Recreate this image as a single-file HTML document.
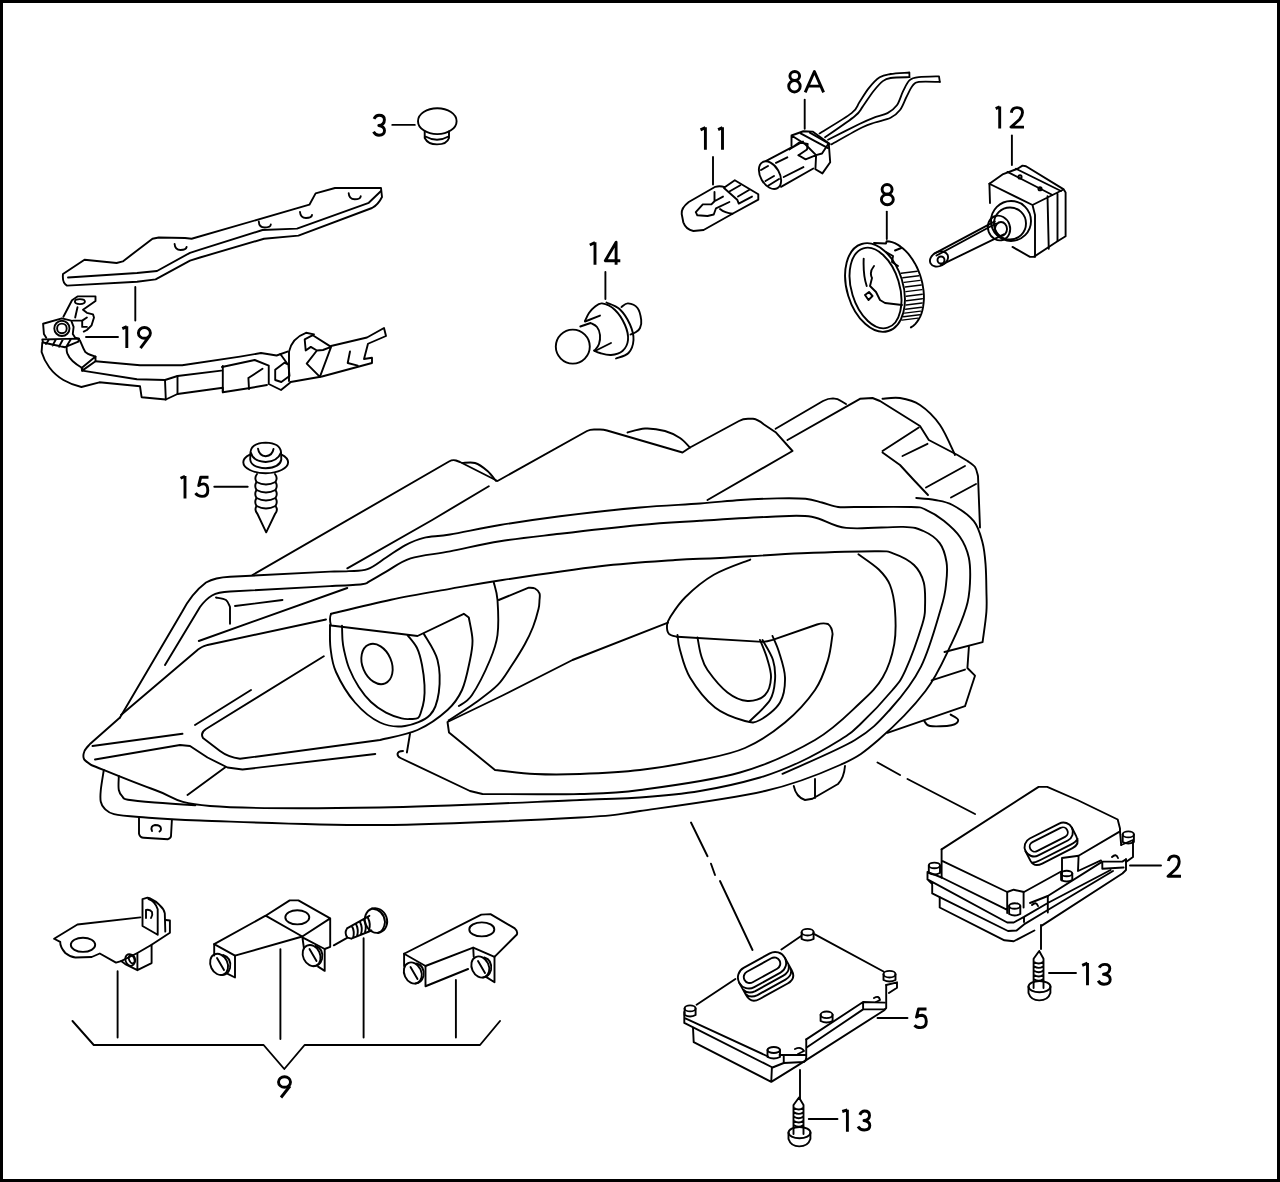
<!DOCTYPE html>
<html><head><meta charset="utf-8">
<style>
html,body{margin:0;padding:0;background:#fff;}
body{width:1280px;height:1182px;overflow:hidden;position:relative;}
svg{position:absolute;left:0;top:0;}
.s{fill:none;stroke:#000;stroke-width:1.9;stroke-linejoin:round;stroke-linecap:round;}
.t{font-family:"Liberation Sans",sans-serif;font-size:31px;fill:#000;}
</style></head><body>
<svg width="1280" height="1182" viewBox="0 0 1280 1182">
<rect x="1.5" y="1.5" width="1277" height="1179" fill="none" stroke="#000" stroke-width="3"/>
<g id="labels" style="fill:none;stroke:#000;stroke-width:2.9;stroke-linejoin:round;stroke-linecap:butt">
<path d="M374,118.8 Q375.8,115.3 379,115.3 Q384.4,115.3 384.4,119.7 Q384.4,124.8 378.8,125.5 Q384.5,126.5 384.5,130.6 Q384.5,135.3 379,135.3 Q375.5,135.3 373.5,131.8"/>
<path d="M122.3,328.6 L126.8,326.6 M126.8,326.2 L126.8,348.1"/><ellipse cx="144.4" cy="332.9" rx="6" ry="5.4"/><path d="M149.6,335.8 L140.5,348.1"/>
<ellipse cx="794.75" cy="76" rx="4.85" ry="4.45"/><ellipse cx="794.45" cy="86.25" rx="5.75" ry="5.75"/><path d="M805.2,92.3 L814.4,71.5 L823.6,92.3 M809,86.1 L820,86.1"/>
<path d="M700.5,129.9 L705.4,127.6 M705.4,127.3 L705.4,149.8 M718.1,129.6 L722.5,127.6 M722.5,127.3 L722.5,149.8"/>
<path d="M995.7,108.6 L999.7,106.8 M999.7,106.6 L999.7,128.6 M1011.3,112.8 Q1012,107.6 1017,107.6 Q1022.5,107.6 1022.5,112.6 Q1022.5,116 1019.5,119.5 L1011,127.1 L1024,127.1"/>
<ellipse cx="887.1" cy="189.35" rx="5" ry="4.85"/><ellipse cx="887.35" cy="199.45" rx="5.95" ry="5.25"/>
<path d="M589.8,245 L595,242.5 M595,242.2 L595,264.7 M616.1,264.7 L616.1,242.3 L605.3,260.7 L620.3,260.7"/>
<path d="M180.5,478.3 L185,476.2 M185,476 L185,498.5 M208.5,477.3 L200.7,477.3 L198.7,485.5 Q201.5,483.8 204,483.9 Q207.8,484.3 207.8,490.5 Q207.8,496.4 202,496.4 Q197.8,496.4 195.5,493.2"/>
<path d="M1168.3,861 Q1169.5,856 1174,856 Q1179.2,856 1179.2,861.5 Q1179.2,865.5 1176,869 L1168,876.3 L1181,876.3"/>
<path d="M1082.2,965.4 L1087.5,963.2 M1087.5,963 L1087.5,985.3 M1099.2,967.6 Q1101,964.4 1104.7,964.4 Q1109.8,964.4 1109.8,968.6 Q1109.8,973.5 1103.5,974.3 Q1110.2,975 1110.2,979.5 Q1110.2,984.2 1104,984.2 Q1100,984.2 1098.2,980.8"/>
<path d="M926.5,1009 L918.5,1009 L916.5,1017 Q919,1015.3 922,1015.3 Q926.3,1015.7 926.3,1021.6 Q926.3,1027.6 920.5,1027.6 Q916.5,1027.6 914.5,1025.2"/>
<path d="M842.25,1111.5 L847.4,1109.9 M847.4,1109.8 L847.4,1131.8 M859.8,1114.8 Q861.5,1111 864.5,1111 Q869.5,1111 869.5,1115.5 Q869.5,1120 864,1120.5 Q869.8,1121.5 869.8,1125.6 Q869.8,1130 864.3,1130 Q860,1130 858,1126.5"/>
<ellipse cx="284.5" cy="1082" rx="6" ry="5.3"/><path d="M290,1086 L281,1097.5"/>
</g>

<g class="s" id="p19">
<path d="M63,274 L84.5,259.8 L116.6,263 L122.8,261.4 L152.5,238.75 L158.75,237.5 L185,238 L191.6,238.75 L309.4,204.7 L315.6,193.4 L335,188 L381,188 L382,197 Q378,205 372,208 L298.4,235.6 L264,238.75 L200,257.5 L190,260.6 L155.6,279.4 L137,281.7 L67,285.6 Q62,283 63,274 Z"/>
<path d="M68,277.5 L137,273 L157,271 L190,252.8 L200,249.7 L262.5,230 L297,228.6 L368.75,202.8 L381,191"/>
<path d="M174.6,244 Q175,250 180.6,250 Q186,250 186.6,247 M258.8,221.5 Q259,227.5 264.8,227.5 Q270.5,227.5 270.8,224.5 M300,212 Q300.5,218 306,218 Q311.5,218 312,215 M348.7,193.3 Q349,199.3 354.7,199.3 Q360.3,199.3 360.7,196.3"/>
<path d="M42.3,342.5 L41.6,351.9 Q44,360 49.4,367.5 Q55,375 63.4,380 Q72,385 81.4,387 L99.4,382.3 L140,386.25 L141.6,397.2 L165.8,399.5 L177.5,394 L222.8,387.8 L222.8,392.3 L250,388 L267,385"/>
<path d="M95.5,361.25 L140,365.2 L182.2,365.2 L240,356.6 L261,353 L276.6,355.5 L287.5,351.6"/>
<path d="M82.2,370.6 L136.9,379.2 L165,380 L177.5,376 L221.25,370.6"/>
<path d="M165,380 L165.8,399.5 M177.5,376 L177.5,394 M222.8,366 L222.8,392.3"/>
<path d="M82.2,367.5 L95.5,356.6 L95.5,361.25 L82.2,370.6 Z"/>
<path d="M66.6,347.2 Q66.5,351 67.3,353.4 Q69,358 72.8,361.25 Q77,365 81.4,367.5 L82.2,370.6"/>
<path d="M79.8,340.2 Q81,343 82.2,345.6 Q83.5,349 85.3,351.9 Q88,354 90.8,355 L95.5,356.6"/>
<path d="M222,367 L254.7,360 L268.75,365.6 L268.75,384 L281,390 L290,382.8 M248.4,378 L262.5,368.75 M248.4,378 L249,389"/>
<path d="M275.2,369.8 L284.4,362.7 L288.4,364.7 L289.5,375.9 L281.3,382 L275.2,380 Z M280.3,354 L287.4,363.7"/>
<path d="M289,381 L289,351.6 Q292,338 306,332.8 L314,334.4"/>
<path d="M304.7,339.3 L312.8,335.2 L331.1,346.9 L319.9,376.9 L306.7,363.7 L316.9,350.5 L310.8,346.9 L305.7,350.5 Z M316.9,350.5 L323,350 L331.1,346.9"/>
<path d="M331,346 L367,337.5 L384,328 L386,336 L368,343.75 L364,359 L372,357.8 L372,363 L322,376.5 L290.6,382"/>
<path d="M350,351.5 L347.7,363 L357.8,365.6"/>
<path d="M63.4,316.7 L72,300.3 L77.5,296.4 L95.5,296.4 L95.5,301 L83,309.7 L86.9,312.8 L93,314.4 L94,317.5 L91.6,325.3 L86.9,330 L83.75,331.6"/>
<path d="M77.5,307.3 L75.2,317.5 M72.8,320.6 L82.2,320.6 L86.9,317.5 M82.2,320.6 L82.2,326.9 L86.9,326.9"/>
<ellipse cx="79.9" cy="301.6" rx="5" ry="2.5"/>
<path d="M43.1,323.75 L61.9,318.3 L71.25,320.6 L73.6,326.9 L72.8,333.9 L75.2,337.8 L79,338.6 M43.1,323.75 L43.9,333.9 L46.25,337.8"/>
<circle cx="61.9" cy="328.4" r="7.6"/><circle cx="61.9" cy="328.4" r="4.8"/>
<path d="M42.3,339.4 L79,338.6 L78.3,341.7 L65,347.2 L43.1,342.5 Z M49,339.5 L46,344 M56,339.3 L52.5,345.5 M63,339.2 L59,346.7 M71,339 L67,345.5"/>
</g>
<g class="s" id="p3">
<ellipse cx="437.3" cy="121.2" rx="19.3" ry="12.9"/>
<path d="M424.7,131.5 L424.7,138 Q428,144.4 437,144.4 Q447,144.4 449,138 L449,131.5 M425.5,136.5 Q437,143 448.5,136.5"/>
</g>
<g class="s" id="p11">
<path d="M715.3,186.8 L688.75,202 Q681,208 681.7,214 L683.3,222.3 Q686,229.5 693.4,231 L703.6,230 L732.5,213.75 L758.3,199.7 L758.3,194.2 L734.8,180.2 L724.7,187.2 Q720,185.5 715.3,186.8 Z"/>
<path d="M724,188 L737.2,199.7 L738.75,203.6 L752,196.6 M729.4,191.5 L740.3,185.2 M738,196.5 L749,190"/>
<path d="M714.5,191.9 L714.5,201.25 L723,196.6 M695.8,212.2 L702.8,204.4 L711.4,204.4 L714.5,201.25 M729.4,202 L716,208.3 L713.75,214.5 L707.5,216 L697.3,215.3 L695.8,212.2 M720,209 Q725,213 732.5,213.75"/>
</g>
<g class="s" id="p8a">
<ellipse cx="770" cy="175.2" rx="9.5" ry="15" transform="rotate(-30 770 175.2)"/>
<path d="M766.2,160.8 L792.2,147.1 M781,186.8 L813.3,168.5 M776,162.9 L787.3,157.3 M783.75,177 L803.4,167.1 M761,170 L768,166 M765.5,181 L774,176 M768.5,185.5 L779,179"/>
<path d="M791.5,146 L791.5,135.5 L803.4,131.25 L812.6,131.6 L828.75,143.2 L830.2,162.2 L822.4,173.4 L815.4,169.2 L816.1,155.2 L822,153.5 L828.75,143.2 M791.5,135.5 L805,144 L816.1,155.2 L805.6,159.4 L798.5,155.2"/>
<path d="M800.6,133.4 L828,148.1 M809.8,132.7 L829.5,143.9 M789.4,149.5 L799.2,142.5 L807.7,143.9 L807,149.5 L798.5,155.2 M792.5,147.5 L803,141.5"/>
<g style="stroke-width:1.8">
<path d="M819.5,133.4 C824.9,130.0 845.0,118.3 851.6,113.1 C858.2,107.9 856.5,106.4 859.4,102.2 C862.3,98.0 865.4,92.3 868.8,88.1 C872.1,83.9 876.1,79.5 879.7,77.2 C883.3,74.9 885.7,74.8 890.6,74.0 C895.5,73.2 906.3,72.8 909.4,72.5 L909.4,77.2"/><path d="M909.4,77.2 C906.3,77.3 895.0,77.3 890.6,78.0 C886.2,78.7 885.7,78.9 882.8,81.1 C879.9,83.3 876.8,87.0 873.4,91.2 C870.0,95.5 865.6,102.7 862.5,106.9 C859.4,111.1 861.0,111.2 854.7,116.2 C848.5,121.3 830.0,133.8 825.0,137.3"/><path d="M828.0,139.7 C833.2,137.1 851.8,127.7 859.4,124.0 C867.0,120.3 868.7,119.6 873.4,117.8 C878.1,116.0 883.6,115.2 887.5,113.1 C891.4,111.0 894.3,108.9 896.9,105.3 C899.5,101.7 901.0,95.4 903.1,91.2 C905.2,87.1 906.8,82.6 909.4,80.3 C912.0,78.0 913.8,77.8 918.8,77.2 C923.7,76.6 935.6,76.5 939.0,76.4 L939.8,81.9"/><path d="M939.8,81.9 C936.3,81.9 923.3,81.2 918.8,81.9 C914.2,82.6 914.6,83.2 912.5,85.8 C910.4,88.4 908.3,93.5 906.2,97.5 C904.2,101.5 902.6,106.6 900.0,110.0 C897.4,113.4 894.8,115.7 890.6,117.8 C886.4,119.9 879.7,120.9 875.0,122.5 C870.3,124.1 869.8,123.5 862.5,127.2 C855.2,130.8 836.5,141.5 831.2,144.4"/>
</g></g>
<g class="s" id="p8" style="stroke-width:1.9">
<ellipse cx="875" cy="287.5" rx="28" ry="45.5" transform="rotate(-17 875 287.5)"/>
<ellipse cx="875.5" cy="288" rx="24" ry="41.5" transform="rotate(-17 875.5 288)"/>
<path d="M874,243 L886,243.5 L886.6,241.2 L889.3,241.5 L892.0,242.2 L894.8,243.2 L897.6,244.6 L900.3,246.4 L903.0,248.5 L905.6,250.9 L908.2,253.7 L910.5,256.7 L912.8,259.9 L914.9,263.4 L916.8,267.0 L918.5,270.9 L920.0,274.8 L921.2,278.8 L922.3,282.9 L923.0,287.1 L923.6,291.2 L923.9,295.2 L923.9,299.2 L923.6,303.0 L923.1,306.7 L922.4,310.3 L921.4,313.6 L920.2,316.6 L918.7,319.4 L917.0,321.9 L915.2,324.1 L913.1,326.0 L910.9,327.4"/>
<path d="M901.2,273.3 L917.2,271.3 M902.8,277.8 L918.8,275.8 M904.1,282.4 L920.1,280.4 M905.2,287.0 L921.2,285.0 M905.9,291.6 L921.9,289.6 M906.3,296.2 L922.3,294.2 M906.4,300.7 L922.4,298.7 M906.1,305.0 L922.1,303.0 M905.6,309.2 L921.6,307.2 M904.7,313.1 L920.7,311.1 M903.5,316.7 L919.5,314.7 M902.0,320.1 L918.0,318.1" style="stroke-width:1.4"/>
<path d="M895,250.5 L901.25,248 M886,252 L893,256 L892,262 L898,266 M863.7,258.6 Q863,275 866.7,286 M874,266 Q869,272 872,278 L870,286 L876,292 L880,300 L885,303 L902,305 M865,295 L869,292 L872.5,296 L868.5,300 Z"/>
</g>
<g class="s" id="p12">
<path d="M989.4,183.75 L1002.5,174.4 L1017.5,168.75 L1022.5,165.6 L1026,166.25 L1063.75,189.4 L1065.6,192.5 L1065.6,236.25 L1057.5,241.25 L1033.75,256.9 L1030,256.9 L1012.5,246.9"/>
<path d="M989.4,183.75 L990,203 M989.4,183.75 L1032.5,205 L1062.5,190 M1032.5,205 L1035,215 L1035,256.9 M1047.5,196.25 L1048.75,248.75 M1057.5,193.75 L1057.5,241 M1007.5,171.9 L1052.5,195 M1016,168.75 L1061,191"/>
<circle cx="1020" cy="176.9" r="1.6"/><circle cx="1040" cy="188.75" r="1.6"/>
<circle cx="1011" cy="221" r="20"/><circle cx="1010" cy="223.5" r="16"/><ellipse cx="999" cy="228" rx="11" ry="12.5" transform="rotate(-20 999 228)"/><ellipse cx="1001" cy="229" rx="6" ry="7"/>
<path d="M934.3,253.6 L994.8,221.4 M936.5,255.5 L996,223.5 M940.7,265.2 L1003.9,234.3"/>
<ellipse cx="939" cy="259" rx="9.5" ry="7" transform="rotate(-27 939 259)"/><circle cx="941" cy="260" r="3.5"/>
</g>
<g class="s" id="p14">
<circle cx="572.8" cy="346.6" r="17"/>
<path d="M585.0,321.0 C585.7,319.7 587.5,315.2 589.0,313.0 C590.5,310.8 591.8,309.1 594.0,307.5 C596.2,305.9 598.5,303.0 602.0,303.4 C605.5,303.8 611.2,306.4 615.0,310.0 C618.8,313.6 622.8,320.0 625.0,325.0 C627.2,330.0 628.4,335.7 628.0,340.0 C627.6,344.3 625.3,348.5 622.5,351.0 C619.7,353.5 614.8,354.7 611.0,355.0 C607.2,355.3 602.8,353.8 600.0,353.0 C597.2,352.2 595.0,350.9 594.0,350.5"/>
<path d="M606.5,302.5 C608.7,303.6 615.6,305.3 619.5,309.0 C623.4,312.7 627.7,319.3 630.0,324.5 C632.3,329.7 633.8,335.2 633.5,340.0 C633.2,344.8 631.4,349.9 628.5,353.0 C625.6,356.1 618.1,357.6 616.0,358.5"/>
<path d="M621.5,307.0 C622.6,306.4 625.3,303.2 628.0,303.4 C630.7,303.6 635.3,305.2 637.5,308.0 C639.7,310.8 640.8,316.7 641.2,320.0 C641.7,323.3 640.9,326.0 640.0,328.0 C639.1,330.0 637.6,330.9 636.0,332.0 C634.4,333.1 631.4,334.1 630.5,334.5"/>
<path d="M580.3,326.5 L590.6,323  C591.7,323.7 595.4,325.0 597.0,327.0 C598.6,329.0 599.7,332.2 600.0,335.0 C600.3,337.8 599.8,341.5 599.0,344.0 C598.2,346.5 595.7,349.0 595.0,350.0"/>
<path d="M585,321.5 L600,315.6 M595,351 L611,343"/>
</g>
<g class="s" id="p15">
<ellipse cx="265.7" cy="462.3" rx="22.4" ry="10.9"/>
<path d="M250.5,452 Q251.5,443 265.7,442.6 Q280,443 281,452 L281.3,459.5 Q280,467.5 265.7,468.3 Q251,467.5 250.2,459.5 Z" style="fill:#fff"/>
<path d="M251,453 Q253,461 265.7,462 Q278,461 280.7,453"/>
<path d="M258,448.6 Q259,455.5 265.7,456.3 Q272.5,455.5 273.5,449"/>
<path d="M257,474 Q254,478 256.5,482 Q254,486 256.5,490 Q254,494 256.5,498 Q254,502 256.5,506 Q254,510 257.5,514 L266.2,532.3 L275,514 Q278.5,510 275.5,506 Q278,502 275.5,498 Q278,494 275.5,490 Q278,486 275.5,482 Q278,478 275,474"/>
<path d="M256.5,482 Q266,487 275.5,482 M256.5,490 Q266,495 275.5,490 M256.5,498 Q266,503 275.5,498 M256.5,506 Q266,511 275.5,506"/>
</g>

<g class="s" id="head">
<path d="M252.5,575 L449,461.5 Q452.5,459.5 456,460.5 L460,462 L497.5,481 L587,431 Q590,429.5 594,429.5 L600,429.5 Q603.75,429.5 607,430.5 L682.5,452.5 L690,447.5 L739,421 Q743,418.8 748,418.8 L753,418.8 Q758,419.5 764,424.5 L775.6,432.2 L792.5,451 L707.5,500"/>
<path d="M462.5,463.0 C464.6,463.0 470.8,461.7 475.0,463.0 C479.2,464.3 484.0,468.0 487.5,471.0 C491.0,474.0 494.6,479.3 496.0,481.0"/>
<path d="M627.5,432.5 C630.4,431.8 638.8,428.8 645.0,428.5 C651.2,428.2 659.2,429.4 665.0,431.0 C670.8,432.6 675.8,435.2 680.0,438.0 C684.2,440.8 688.3,445.9 690.0,447.5"/>
<path d="M347.3,568.3 L432.2,520.0 L488.8,486.2"/>
<path d="M775.6,428.7 L823,401 Q828,398.4 833,398.4 Q838,398.6 841,401 L846,404"/>
<path d="M787.5,440.0 L860.0,398.8 L872.5,398.0 L880.0,401.0 L920.0,426.0 L928.8,440.0 L957.5,455.0 L967.5,461.0 C968.8,462.0 973.2,464.5 975.0,467.0 C976.8,469.5 977.5,474.5 978.0,476.0 L980.0,527.5"/>
<path d="M882.5,398.8 C885.4,398.6 893.8,397.0 900.0,398.0 C906.2,399.0 913.3,400.5 920.0,405.0 C926.7,409.5 934.2,416.7 940.0,425.0 C945.8,433.3 952.5,450.0 955.0,455.0"/>
<path d="M882.5,451.0 L918.8,427.5 M882.5,452.5 L900.0,465.0 L913.8,480.0 L928.0,495.0"/>
<path d="M902.5,456.0 L927.5,443.8 M926.0,487.5 L965.0,466.0 M951.0,497.5 L976.0,484.0"/>
<path d="M120,717.5 L182,612 Q192,593 206,582.5 Q215,577.5 230,576.8 L330,571.6 C333.1,571.5 342.5,571.5 348.8,571.1 C355.0,570.7 361.2,571.5 367.5,569.2 C373.8,566.9 380.0,561.5 386.2,557.5 C392.5,553.5 398.8,548.6 405.0,545.3 C411.2,542.0 416.2,539.6 423.8,537.8 C431.2,536.0 437.3,536.6 450.0,534.5 C462.7,532.4 481.7,528.0 500.0,525.0 C518.3,522.0 536.7,519.2 560.0,516.2 C583.3,513.3 616.7,509.6 640.0,507.5 C663.3,505.4 683.2,504.8 700.0,503.5 C716.8,502.2 727.7,500.9 740.6,500.0 C753.5,499.1 766.4,498.6 777.2,498.4 C788.0,498.2 798.2,498.1 805.6,498.8 C813.0,499.5 816.5,501.1 821.9,502.5 C827.3,503.9 832.7,506.2 838.1,507.0 C843.5,507.8 842.2,507.0 854.4,507.0 C866.6,507.0 899.4,506.6 911.2,507.0 C923.1,507.4 920.1,507.3 925.5,509.6 C930.9,511.9 938.0,516.2 943.8,520.8 C949.5,525.4 955.8,530.9 960.0,537.0 C964.2,543.1 967.1,549.9 968.8,557.5 C970.4,565.1 970.4,574.2 970.0,582.5 C969.6,590.8 969.4,597.3 966.2,607.5 C963.1,617.7 958.2,629.8 951.4,643.8 C944.6,657.7 937.7,675.0 925.5,691.0 C913.3,707.0 892.5,727.7 878.3,740.0 C864.0,752.3 858.9,756.5 840.0,765.0 C821.1,773.5 798.3,783.3 765.0,791.0 C731.7,798.7 670.8,806.6 640.0,811.0 C609.2,815.4 623.3,815.2 580.0,817.5 C536.7,819.8 443.3,824.5 380.0,825.0 C316.7,825.5 240.2,821.8 200.0,820.5 C159.8,819.2 153.3,818.0 139.0,817.0 C124.7,816.0 119.7,815.6 114.0,814.2 C108.3,812.8 106.9,810.8 104.7,808.8 C102.5,806.7 101.5,804.8 100.8,801.7 C100.1,798.6 100.3,795.3 100.8,790.0 C101.3,784.7 103.3,773.3 103.8,770.0"/>
<path d="M916.2,498.0 C919.4,498.3 929.0,498.8 935.0,500.0 C941.0,501.2 946.0,501.5 952.5,505.0 C959.0,508.5 968.8,515.0 973.8,521.2 C978.8,527.5 980.5,535.2 982.5,542.5 C984.5,549.8 985.0,557.1 985.6,565.0 C986.2,572.9 986.3,582.2 986.4,590.0 C986.5,597.8 987.0,603.1 986.4,611.8 C985.8,620.5 983.2,637.1 982.6,642.2 L944.5,652.0"/>
<path d="M968.9,646.8 L967.4,668.0 L975.0,675.7 L965.0,706.2 L887.4,732.8 M931.6,680.3 L965.0,669.6"/>
<path d="M924.0,720.6 C925.0,721.5 925.4,725.2 930.0,726.0 C934.6,726.8 946.7,726.2 951.4,725.2 C956.1,724.2 958.3,721.8 958.2,720.0 C958.1,718.2 951.9,715.5 950.6,714.6"/>
<path d="M165,665 L200,607 Q206,599 212,595.5 Q218,592 230,591.5 L330,586.1 C335.3,585.8 355.3,585.0 361.9,584.2 C368.5,583.4 365.3,583.5 369.4,581.4 C373.5,579.3 379.4,575.4 386.2,571.6 C393.1,567.8 400.0,561.8 410.6,558.4 C421.2,555.0 435.1,554.3 450.0,551.4 C464.9,548.5 481.7,544.2 500.0,541.2 C518.3,538.3 536.7,536.5 560.0,533.8 C583.3,531.0 616.7,527.2 640.0,525.0 C663.3,522.8 678.2,522.2 700.0,520.8 C721.8,519.4 752.4,517.4 771.0,516.7 C789.6,516.0 799.2,514.8 811.7,516.7 C824.2,518.6 831.0,526.2 846.2,527.9 C861.5,529.6 890.2,526.4 903.1,526.9 C916.0,527.4 917.3,528.3 923.4,531.0 C929.5,533.7 935.9,537.9 939.7,543.1 C943.6,548.3 945.4,555.4 946.5,562.0 C947.6,568.6 947.1,574.9 946.2,582.5 C945.4,590.1 945.5,593.5 941.2,607.5 C937.0,621.5 929.5,649.7 921.0,666.6 C912.5,683.5 901.5,696.8 890.5,709.0 C879.5,721.2 873.0,729.2 855.0,740.0 C837.0,750.8 794.6,768.1 782.5,773.8"/>
<path d="M331.0,613.8 C341.0,611.4 371.2,603.8 391.0,599.7 C410.8,595.6 431.4,592.2 450.0,588.9 C468.6,585.6 477.5,583.8 502.5,580.0 C527.5,576.2 571.2,569.6 600.0,566.2 C628.8,562.9 655.0,561.4 675.0,560.0 C695.0,558.6 698.9,559.1 720.0,558.0 C741.1,556.9 775.8,554.4 801.6,553.3 C827.4,552.2 859.5,551.2 874.7,551.2 C889.9,551.2 886.5,551.0 893.0,553.3 C899.5,555.6 908.9,560.1 914.0,565.0 C919.1,569.9 921.9,575.4 923.8,582.5 C925.6,589.6 925.2,600.6 925.0,607.5 C924.8,614.4 925.6,613.6 922.4,624.0 C919.2,634.4 910.7,658.6 905.7,669.6 C900.7,680.6 900.1,680.9 892.5,690.0 C884.9,699.1 868.8,716.2 860.0,724.5 C851.2,732.8 850.0,733.8 840.0,740.0 C830.0,746.2 813.3,755.8 800.0,762.0 C786.7,768.2 776.7,772.7 760.0,777.5 C743.3,782.3 720.0,787.7 700.0,791.0 C680.0,794.3 660.0,796.0 640.0,797.5 C620.0,799.0 623.3,798.3 580.0,800.0 C536.7,801.7 441.7,806.5 380.0,807.5 C318.3,808.5 247.5,808.9 210.0,806.0 C172.5,803.1 174.8,796.8 155.0,790.0 C135.2,783.2 101.9,769.2 91.2,765.0 C90.0,764.0 85.1,761.3 84.0,759.0 C82.9,756.7 83.5,753.5 84.5,751.0 C85.5,748.5 89.1,745.2 90.0,744.0 L120.0,717.5"/>
<path d="M858.4,554.3 C861.8,556.8 873.5,564.4 878.8,569.5 C884.0,574.6 887.3,578.2 890.0,585.0 C892.7,591.8 894.3,600.2 895.0,610.0 C895.7,619.8 896.3,632.5 894.3,643.8 C892.3,655.0 888.5,667.4 882.8,677.2 C877.1,687.1 871.3,692.5 860.0,703.0 C848.7,713.5 835.0,728.4 815.0,740.0 C795.0,751.6 769.2,764.2 740.0,772.5 C710.8,780.8 666.7,786.4 640.0,790.0 C613.3,793.6 606.2,793.3 580.0,794.0 C553.8,794.7 498.8,794.0 482.5,794.0 L470.0,791.0 L400.5,758 Q397.5,756.5 397.5,754 Q398,751 403,751 M410,733.75 L406.9,752.5"/>
<path d="M668,622.6 L572.5,660 L502.5,695.5 L447.5,722 L449,732.5 L495,770 C501.7,770.7 520.8,773.3 535.0,774.0 C549.2,774.7 562.5,774.7 580.0,774.0 C597.5,773.3 620.0,772.3 640.0,770.0 C660.0,767.7 682.5,763.7 700.0,760.0 C717.5,756.3 730.8,754.2 745.0,748.0 C759.2,741.8 773.3,732.2 785.0,722.5 C796.7,712.8 807.8,700.4 815.0,690.0 C822.2,679.6 825.1,669.3 828.0,660.0 C830.9,650.7 831.8,638.3 832.6,634.0 Q832,627 828,624 Q823,622.5 817,624.5 L772.7,639.8 Q767,641.5 762.5,641.9 L677.2,636.8"/>
<path d="M750.3,559.6 C744.2,562.1 724.6,568.5 713.8,574.8 C702.9,581.1 692.6,590.1 685.3,597.2 C678.0,604.3 673.0,612.8 670.0,617.5 C667.0,622.2 667.2,622.9 667.0,625.6 C666.8,628.3 667.3,631.9 669.0,633.8 C670.7,635.6 675.8,636.3 677.2,636.8"/>
<path d="M677.5,635.0 C677.9,637.5 677.9,642.9 680.0,650.0 C682.1,657.1 684.2,667.9 690.0,677.5 C695.8,687.1 705.8,700.2 715.0,707.5 C724.2,714.8 737.5,718.9 745.0,721.0 C752.5,723.1 754.2,723.1 760.0,720.0 C765.8,716.9 775.8,709.6 780.0,702.5 C784.2,695.4 785.2,685.9 785.0,677.5 C784.8,669.1 781.1,658.9 779.0,652.0 C776.9,645.1 773.6,638.7 772.5,636.0"/>
<path d="M697.5,637.5 C698.1,640.4 699.3,649.6 701.0,655.0 C702.7,660.4 703.1,663.8 707.5,670.0 C711.9,676.2 720.8,687.3 727.5,692.5 C734.2,697.7 741.2,700.6 747.5,701.0 C753.8,701.4 761.1,698.9 765.0,695.0 C768.9,691.1 770.7,683.7 771.0,677.5 C771.3,671.3 768.8,664.2 767.0,658.0 C765.2,651.8 761.2,643.0 760.0,640.0"/>
<path d="M762.5,640.0 C764.2,643.3 770.9,653.3 773.0,660.0 C775.1,666.7 775.5,673.3 775.0,680.0 C774.5,686.7 774.2,693.2 770.0,700.0 C765.8,706.8 753.3,717.5 750.0,721.0"/>
<path d="M330.0,625.0 C330.1,628.8 329.5,640.2 330.5,648.0 C331.5,655.8 331.9,662.9 336.0,672.0 C340.1,681.1 347.7,694.1 355.0,702.5 C362.3,710.9 371.7,718.6 380.0,722.5 C388.3,726.4 396.7,727.2 405.0,726.0 C413.3,724.8 424.4,720.6 430.0,715.0 C435.6,709.4 437.5,701.7 438.8,692.5 C440.0,683.3 440.0,669.8 437.5,660.0 C435.0,650.2 426.0,638.1 423.8,633.8"/>
<path d="M342.0,625.7 C342.1,628.1 342.2,636.0 342.5,640.0 C342.8,644.0 342.9,645.3 344.0,650.0 C345.1,654.7 346.5,661.8 349.0,668.0 C351.5,674.2 355.1,681.3 358.8,687.0 C362.5,692.7 366.5,697.7 371.0,702.0 C375.5,706.3 380.9,709.9 386.0,712.6 C391.1,715.3 397.4,717.3 401.6,718.4 C405.8,719.5 408.3,719.1 411.0,719.0 C413.7,718.9 416.3,719.2 418.0,718.0 C419.7,716.8 420.0,715.0 421.0,712.0 C422.0,709.0 423.4,704.5 424.0,700.0 C424.6,695.5 424.8,690.8 424.5,685.0 C424.2,679.2 423.2,671.2 422.0,665.0 C420.8,658.8 419.4,652.9 417.0,648.0 C414.6,643.1 409.2,637.5 407.7,635.4"/>
<ellipse cx="377" cy="664" rx="14.5" ry="21" transform="rotate(-23 377 664)"/>
<path d="M323.8,656.2 L206,729 Q200,733 203,738 L220,751 Q228,757 240,758.8 L380.0,740.0 C386.2,738.3 406.2,735.0 417.5,730.0 C428.8,725.0 440.1,716.7 447.5,710.0 C454.9,703.3 458.2,698.3 462.0,690.0 C465.8,681.7 468.2,668.3 470.0,660.0 C471.8,651.7 472.7,647.1 472.5,640.0 C472.3,632.9 469.4,621.2 468.8,617.5 L463.8,613.8 L417.5,636.0 L399.5,633.8 L331,625.5 Q329,619 331,613.75"/>
<path d="M493.8,582.5 C494.4,585.4 496.9,591.2 497.5,600.0 C498.1,608.8 498.8,625.0 497.5,635.0 C496.2,645.0 494.2,650.0 490.0,660.0 C485.8,670.0 477.2,687.3 472.0,695.0 C466.8,702.7 461.0,704.2 458.8,706.0"/>
<path d="M498.75,600 L528.75,587.6  C529.8,587.8 533.2,587.5 535.0,588.5 C536.8,589.5 538.8,591.5 539.5,593.4 C540.2,595.3 539.7,597.4 539.5,600.0 C539.3,602.6 539.6,604.5 538.5,609.0 C537.4,613.5 535.3,621.1 533.0,627.0 C530.7,632.9 528.3,637.9 524.8,644.2 C521.3,650.5 516.5,658.2 512.0,665.0 C507.4,671.8 503.7,678.9 497.5,685.2 C491.3,691.5 483.1,697.1 475.0,703.0 C466.9,708.9 453.1,717.5 448.7,720.4"/>

<path d="M195.0,725.0 L251.0,690.0 M92.5,746.0 L182.5,733.8 M225.0,767.5 L187.5,795.0 M121.0,715.0 L197.5,650.0 C198.2,649.5 200.3,647.8 202.0,647.0 C203.7,646.2 206.6,645.3 207.5,645.0 L326.0,619.5"/>
<path d="M95.0,759.5 L180.0,745.0 L190.0,746.0 L207.5,757.5 L227.5,767.5 L242.5,769.5 L375.3,754"/>
<path d="M118.8,776.0 C118.8,778.3 118.1,786.5 118.8,790.0 C119.4,793.5 121.2,795.4 122.7,797.0 C124.2,798.6 122.7,798.9 128.0,799.8 C133.3,800.7 143.5,801.6 154.7,802.5 C165.9,803.4 188.5,804.8 195.3,805.2"/>
<path d="M216.0,597.5 C217.7,597.9 223.7,598.4 226.0,600.0 C228.3,601.6 229.3,605.8 230.0,607.0 L230,623.75 M235.0,606.0 L282.5,600.0 M198.8,641.0 L347.3,588.0"/>
<path d="M139,817.3 L139,833.75 Q140,837.7 143.75,837.7 L168,839.2 Q171,838 171,836 L171.9,819.7 M152,831 Q150,826 155,825 Q161,825 161,829 Q161,831 159.5,831.5"/>
</g>
<g class="s" id="dash">
<path d="M691,822.5 L707.5,856.25 M711,863.75 L715,875 M720,881 L752.5,950 M877.5,762.5 L900,775 M907.5,779 L975,814"/>
</g>

<g class="s" id="p2">
<path d="M941.6,849.4 L1038.6,786.9 L1047.2,786.9 L1077.4,800 L1117.7,819.5 L1120,828.4 L1120,831.4 L1121.2,845"/>
<path d="M941.6,849.4 L941.6,877.5 M941.6,860.6 L1007.2,892 L1013.75,889.7 L1024,892 L1062,871 M1120,831.4 L1078.6,855.7 L1062,858 L1062,880.6 M1078.6,855.7 L1078,871 L1101,860.4"/>
<path d="M941.6,877.5 L1006.25,909.4 M1007.2,892 L1007.2,913 M1023.6,892.5 L1023.6,907.5"/>
<path d="M927.5,871.9 L941.6,877.5 M927.5,871.9 L927.5,879.4 L932.2,884 M927.5,879.4 L1007.2,922.5 L1013.75,922.5 L1024,916.9 L1047.8,903 L1110.6,870 M1024,916.9 L1024,922 M1047.8,896 L1047.8,912.6"/>
<path d="M932.2,885 L932.2,893.4 L939.7,897.2 L1008,931 L1016.6,930.5 L1024,924.4 L1047.8,910 L1113,871"/>
<path d="M939.7,897.2 L939.7,907.5 L1004.4,940.3 L1013.75,941.25 L1034.4,930.5 M1041.8,925.6 L1122.4,873.5 L1126,870 L1126,859.2"/>
<path d="M1047.8,896 L1102.3,861.6 L1122.4,861.6 L1126,859.2 M1102.3,861.6 L1102.3,868.7 L1123.6,867.5 M1121.2,845 L1133,840 L1133,857 L1126,862"/>
<path d="M1030,903 L1047.8,896"/>
<path d="M928.8,865.4 L928.8,873 Q934,876 940,873 L940,865.4"/><ellipse cx="934.4" cy="865.4" rx="5.6" ry="2.8"/>
<path d="M1009.1,906 L1009.1,914 Q1014.7,917 1020.3,914 L1020.3,906"/><ellipse cx="1014.7" cy="906" rx="5.6" ry="2.8"/>
<path d="M1061.1,873.5 L1061.1,880 Q1066.7,883 1072.3,880 L1072.3,873.5"/><ellipse cx="1066.7" cy="873.5" rx="5.6" ry="2.8"/>
<path d="M1122.7,834.4 L1122.7,842 Q1128.3,845 1133.9,842 L1133.9,834.4"/><ellipse cx="1128.3" cy="834.4" rx="5.6" ry="3"/>
<path d="M1112,857 Q1116,853 1118,858 M1032,905 Q1036,901 1038,906"/>
<g transform="translate(0,-3) rotate(-27 1048.75 842.5)">
<rect x="1022.75" y="833" width="52" height="19" rx="9.5"/>
<rect x="1028" y="837.5" width="41.5" height="10" rx="5"/>
<path d="M1022.75,842.5 L1022.75,853 Q1023,861 1032,861 L1066,861 Q1074.75,861 1074.75,852 L1074.75,842.5 M1023,855.5 Q1026,857 1032,857 L1066,857 Q1072,857 1074.7,855"/>
</g>
</g>
<g class="s" id="p5">
<path d="M696.6,1004.8 L735.4,979 M781.4,949.5 L801.5,935.8 M814.4,934.2 L883.5,971.5"/>
<path d="M684.3,1012 L684.3,1022.8 M684.3,1017.8 L768,1056.5 M779.5,1055 L805,1055 M684.3,1022.8 L772.5,1067.5 L783.75,1063 L783.75,1055 M783.75,1063 L804,1062 Q806.3,1060.5 806.25,1057.5 L806.25,1039.4"/>
<path d="M693,1027.8 L693.7,1042.2 L771.25,1081.9 L797.5,1065.6 L883.5,1010.75 L886.2,1008 L886.2,985 M771.9,1067.5 L771.25,1081.9"/>
<path d="M886.2,985 L897,982.3 L897,987.7 L888.9,993 M863.1,1002 L884.8,1002.6 M863.1,1002 L863.1,1009.4 L884.8,1009.4 M863.1,1002 L806.25,1039.4 M863.1,1009.4 L807,1047.3"/>
<path d="M684.6,1008.4 L684.6,1015 Q690.1,1018 695.6,1015 L695.6,1008.4"/><ellipse cx="690.1" cy="1008.4" rx="5.5" ry="3"/>
<path d="M801.6,932.2 L801.6,939 Q807.6,942 813.6,939 L813.6,932.2"/><ellipse cx="807.6" cy="932.2" rx="6" ry="3.3"/>
<path d="M883.5,974.2 L883.5,980 Q889.5,983 895.5,980 L895.5,974.2"/><ellipse cx="889.5" cy="974.2" rx="6" ry="3.3"/>
<path d="M820.6,1014.8 L820.6,1021 Q826.6,1024 832.6,1021 L832.6,1014.8"/><ellipse cx="826.6" cy="1014.8" rx="6" ry="3.3"/>
<path d="M767.5,1050 L767.5,1057 Q773.75,1060 780,1057 L780,1050"/><ellipse cx="773.75" cy="1050" rx="6.25" ry="3"/>
<path d="M874,998 Q879,995 880,1000 L876,1002 M795,1049 Q801,1046 804,1051 L798,1054"/>
<g transform="translate(-2,-2) rotate(-29 765 974)">
<rect x="739" y="961" width="52" height="22" rx="11"/>
<rect x="745" y="966" width="40" height="12" rx="6"/>
<path d="M739,972 L739,986 Q739,996 749,996 L781,996 Q791,996 791,986 L791,972 M739.3,985 Q741,991 749,991.5 L781,991.5 Q789,991.5 790.7,985 M739.2,980 Q741,986.5 749,987 L781,987 Q789,987 790.8,980"/>
</g>
</g>
<g class="s" id="p13">
<path d="M1039.2,951 L1033.6,958.7 L1033.6,988 M1039.2,951 L1043.5,958.7 L1043.5,988 M1034,962 Q1039,965 1043,962 M1034,966.4 Q1039,969.4 1043,966.4 M1034,970.7 Q1039,973.7 1043,970.7 M1034,975 Q1039,978 1043,975 M1034,979.3 Q1039,982.3 1043,979.3"/>
<ellipse cx="1039.5" cy="986.6" rx="11" ry="5.6"/>
<path d="M1028.5,986.6 L1028.5,993 Q1031,1000.4 1039.2,1000.4 Q1048,1000.4 1050.4,993 L1050.4,986.6"/>
<path d="M799,1097.5 L793.5,1105 L793.5,1134 M799,1097.5 L803.5,1105 L803.5,1134 M794,1108 Q799,1111 803,1108 M794,1112.4 Q799,1115.4 803,1112.4 M794,1116.7 Q799,1119.7 803,1116.7 M794,1121 Q799,1124 803,1121 M794,1125.3 Q799,1128.3 803,1125.3"/>
<ellipse cx="799.5" cy="1132.6" rx="11" ry="5.6"/>
<path d="M788.5,1132.6 L788.5,1139 Q791,1146.4 799.2,1146.4 Q808,1146.4 810.4,1139 L810.4,1132.6"/>
</g>

<g class="s" id="p9">
<path d="M72.5,1021 L93.75,1045 L263.6,1045 L284.3,1069 L304.6,1045 L480,1045 L500,1021"/>
<path d="M117.6,971.25 L117.6,1037.5 M280.4,949.1 L280.4,1039 M363.6,938.2 L363.6,1037.5 M455.9,980 L455.9,1037.5"/>
<path d="M54.1,938.75 L77.45,924.5 L140.4,917.4 M54.1,938.75 L60.2,941.8 Q60,947 65.3,953 Q70,957 75.4,957.5 L91.7,957 L99.8,953.5 L116,962.6 L121.1,961.1 M151.6,944.8 L169.9,932.7 L169.9,920.5 L165.8,920"/>
<path d="M142.5,926 L142.5,899.1 L147.5,897.6 L149.6,898.1 Q156,901 159.7,905.2 Q164,909 164.8,913.4 L165.3,931.6 M142.5,926 L157.7,934.7 L157.7,909.3 Q155,901 148.5,899.1"/>
<path d="M146,918 L146,910 Q150,909 152,912 Q153,915 151,918"/>
<ellipse cx="83" cy="944.8" rx="12.2" ry="7.1"/>
<path d="M121.1,961.1 L137.4,953 L151.6,944.8 L151.6,963.1 L137.4,970.2 L137.4,953 M121.1,961.1 L125.2,964.1 L137.4,970.2"/>
<ellipse cx="130" cy="960" rx="4.5" ry="6" transform="rotate(-20 130 960)"/>
<ellipse cx="132" cy="959" rx="3" ry="4.5" transform="rotate(-20 132 959)"/>
<!-- bracket 2 -->
<path d="M214.2,944.1 L265.6,915.7 L289.7,900.4 L298.4,900.4 L330.2,918.4 L330.2,946.9 L324.7,949 M214.2,944.1 L235,955.6 L302.3,936.5 L330.2,918.4 M265.6,915.7 L302.3,936.5"/>
<path d="M214.2,944.1 L214.2,955.6 M235,955.6 L235,977.5 L226.25,973.1 M302.3,936.5 L303.9,948 M303.9,938.1 L324.7,949 L324.7,970.9 L318.1,966.6"/>
<ellipse cx="297.3" cy="917.3" rx="12" ry="7.1"/>
<ellipse cx="219.1" cy="964.4" rx="8.5" ry="11" transform="rotate(-25 219.1 964.4)"/>
<path d="M223,955 Q232,958 230,968 Q228,975 222,975 M217,958 L224,970"/>
<ellipse cx="311.6" cy="955.6" rx="8.5" ry="11" transform="rotate(-25 311.6 955.6)"/>
<path d="M315.5,946 Q324,949 322,959 Q320,966 314,966 M309.5,949 L316.5,961"/>
<!-- screw 9 -->
<ellipse cx="376" cy="920.5" rx="11" ry="12.5" transform="rotate(-20 376 920.5)"/>
<path d="M372,908.5 Q384,910 385,922 Q384,931 378,933"/>
<path d="M333.8,945.3 L347.5,937.6 M347,928.4 L369.4,915.8 M351.3,938.7 L371.5,930.5 M347,928.4 Q344,933 347.5,937.6 L351.3,938.7 M352,926 Q355,932 353,938 M356,924 Q359,930 357,936 M360,922 Q363,928 361,934 M364,920 Q367,926 365,932 M368,918 Q371,924 369,930"/>
<!-- bracket 4 -->
<path d="M404.1,953.75 L481.3,914.6 L490.5,914.1 L514.8,928.4 Q518,931 516.9,934.5 L494.5,956.8 M404.1,953.75 L425.5,966 L473.2,947.7 L494.5,956.8"/>
<path d="M404.1,953.75 L404.1,966 M425.5,966 L425.5,986.25 L468.1,969 M473.2,947.7 L473.7,956.8 M494.5,956.8 L494.5,982.2 L486.4,977.1"/>
<ellipse cx="481.8" cy="929.4" rx="12.5" ry="7"/>
<ellipse cx="412.8" cy="973" rx="8.5" ry="11" transform="rotate(-25 412.8 973)"/>
<path d="M416.7,963.5 Q425,966 423.5,976 Q421.5,983 415.5,983.5 M410.5,967 L417.5,979"/>
<ellipse cx="480.3" cy="967" rx="8.5" ry="11" transform="rotate(-25 480.3 967)"/>
<path d="M484.2,957.5 Q492.5,960 491,970 Q489,977 483,977.5 M478,961 L485,973"/>
</g>
<g class="s" id="tabs">
<path d="M793.75,786 Q796,797 805,800 L812.5,798.75 L838,784 Q844,778 845,766 M815,779 L815,798"/>
</g>
<g class="s" id="leaders">
<path d="M392.3,124.9 L414.8,124.9"/>
<path d="M135.3,287 L135.3,320.5 M86,337 L118,337"/>
<path d="M804.7,99.8 L804.7,128.75"/>
<path d="M713,157 L713,184.5"/>
<path d="M1011.9,135.5 L1011.9,165"/>
<path d="M886.8,211.6 L886.8,239"/>
<path d="M605.4,272 L605.4,299"/>
<path d="M214.3,486.7 L247.7,486.7"/>
<path d="M1130,865.5 L1161,865.5"/>
<path d="M1041,925 L1041,949 M1049,973 L1076,973"/>
<path d="M877.5,1018 L907.5,1018"/>
<path d="M800,1070 L800,1099 M808.75,1119 L837.5,1119"/>
</g>
</svg>
</body></html>
